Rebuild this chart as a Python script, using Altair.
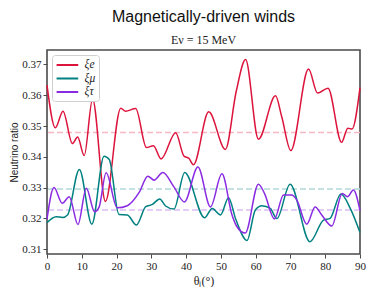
import altair as alt
import pandas as pd

# ---- data ----
series_names = ["ξe", "ξμ", "ξτ"]
series_colors = ["#dc143c", "#008080", "#8a2be2"]
mean_colors = ["#f5b9c5", "#b3d9d9", "#dcbff6"]

theta_e = [0, 2.4, 4.6, 7.3, 8.8, 10.7, 13.1, 16.8, 21.2, 22.6, 25.5, 28.6, 30.6,
           32.8, 37.0, 39.4, 40.8, 42.1, 46.5, 51.3, 54.4, 57.1, 60.8, 65.7, 67.5,
           70.1, 75.2, 77.8, 80.8, 84.7, 86.5, 87.7, 90]
xi_e = [0.3633, 0.3494, 0.3548, 0.3443, 0.3464, 0.3404, 0.3588, 0.3255, 0.3558,
        0.3548, 0.3557, 0.3430, 0.3436, 0.3393, 0.3478, 0.3402, 0.3395, 0.3374,
        0.3546, 0.3424, 0.3612, 0.3716, 0.3457, 0.3598, 0.3530, 0.3420, 0.3685,
        0.3607, 0.3623, 0.3447, 0.3493, 0.3490, 0.3625]

theta_mu = [0, 2.6, 4.5, 5.9, 9.3, 12.9, 16.4, 17.9, 20.7, 23.1, 25.7, 28.4, 30.3,
            32.4, 34.1, 36.5, 39.6, 45.3, 47.5, 49.9, 52.2, 54.3, 57.5, 59.9, 61.8,
            64.2, 66.1, 69.9, 75.6, 79.5, 81.4, 84.5, 87.3, 90]
xi_mu = [0.3186, 0.3205, 0.3203, 0.3211, 0.3359, 0.3181, 0.3402, 0.3391, 0.3212,
         0.3211, 0.3178, 0.3238, 0.3245, 0.3263, 0.3240, 0.3230, 0.3349, 0.3202,
         0.3232, 0.3211, 0.3267, 0.3196, 0.3128, 0.3227, 0.3241, 0.3232, 0.3199,
         0.3311, 0.3124, 0.3194, 0.3200, 0.3279, 0.3230, 0.3154]

theta_tau = [0, 2.0, 4.4, 6.4, 8.9, 11.3, 13.7, 15.0, 17.0, 20.2, 23.1, 26.5, 29.0,
             30.8, 33.3, 36.5, 39.5, 43.4, 47.0, 50.3, 53.2, 54.5, 57.0, 60.8, 62.5,
             65.4, 68.0, 70.4, 71.8, 74.7, 77.1, 79.0, 81.9, 84.9, 86.4, 88.1, 90]
xi_tau = [0.3197, 0.3300, 0.3249, 0.3270, 0.3180, 0.3298, 0.3221, 0.3237, 0.3348,
          0.3234, 0.3241, 0.3284, 0.3337, 0.3324, 0.3349, 0.3302, 0.3253, 0.3367,
          0.3237, 0.3345, 0.3211, 0.3175, 0.3152, 0.3311, 0.3282, 0.3198, 0.3276,
          0.3276, 0.3260, 0.3181, 0.3237, 0.3211, 0.3175, 0.3281, 0.3270, 0.3292,
          0.3225]

mean_values = [0.3479, 0.3295, 0.3227]

y_ticks = [0.31, 0.32, 0.33, 0.34, 0.35, 0.36, 0.37]
x_ticks = [0, 10, 20, 30, 40, 50, 60, 70, 80, 90]

# ---- build tables ----
rows = []
for name, th, vals in zip(series_names, [theta_e, theta_mu, theta_tau],
                          [xi_e, xi_mu, xi_tau]):
    for t, v in zip(th, vals):
        rows.append({"theta": t, "ratio": v, "series": name})
df = pd.DataFrame(rows)
means = pd.DataFrame({"mseries": series_names, "mean": mean_values})

serif = "Liberation Serif"
sans = "Liberation Sans, Arial, sans-serif"
frame = "#4a4a4a"

color_scale = alt.Scale(domain=series_names, range=series_colors)
mean_scale = alt.Scale(domain=series_names, range=mean_colors)
x_scale = alt.Scale(domain=[0, 90], nice=False)
y_scale = alt.Scale(domain=[0.3084, 0.3747], nice=False, zero=False)

y_axis = alt.Axis(values=y_ticks, format=".2f", title="Neutrino ratio",
                  titleFont=sans, titleFontSize=10, titleFontWeight="normal",
                  titlePadding=2, labelOverlap=False, labelBound=False)

legend = alt.Legend(title=None, orient="none", legendX=5, legendY=5,
                    symbolType="M-1,0L3,0", symbolStrokeWidth=2, symbolSize=117,
                    symbolFillColor="transparent",
                    labelFont=serif, labelFontSize=11.5, labelFontStyle="italic",
                    labelColor="#222222",
                    fillColor="white", strokeColor="#d0d0d0",
                    cornerRadius=3, padding=3.5, rowPadding=1.5, labelOffset=16)

lines = alt.Chart(df).mark_line(strokeWidth=1.5, interpolate="monotone").encode(
    x=alt.X("theta:Q", scale=x_scale,
            axis=alt.Axis(values=x_ticks, title="θⱼ(°)", titleFont=serif,
                          titleFontSize=12, titleFontWeight="normal",
                          titlePadding=4, labelFlush=False)),
    y=alt.Y("ratio:Q", scale=y_scale, axis=y_axis),
    color=alt.Color("series:N", scale=color_scale, legend=legend),
    detail="series:N",
)

mean_rules = alt.Chart(means).mark_rule(
    strokeDash=[6, 3], strokeWidth=1.5
).encode(
    y=alt.Y("mean:Q", scale=y_scale, axis=y_axis),
    color=alt.Color("mseries:N", scale=mean_scale, legend=None),
)

chart = alt.layer(mean_rules, lines).resolve_scale(
    color="independent"
).properties(
    width=313,
    height=204,
    padding={"left": 39, "top": 42, "right": 6, "bottom": 33},
    autosize=alt.AutoSizeParams(type="none"),
    title=alt.TitleParams(
        text="Magnetically-driven winds",
        subtitle="Eν = 15 MeV",
        font=sans, fontSize=16, fontWeight="normal", color="#111111",
        subtitleFont=serif, subtitleFontSize=12, subtitleColor="#222222",
        anchor="middle", offset=4, subtitlePadding=10,
    ),
).configure_view(
    stroke=frame, strokeWidth=1.6
).configure_axis(
    grid=False, domain=False, tickColor=frame, tickSize=4, tickWidth=1,
    labelFont=serif, labelFontSize=11, labelColor="#222222",
    titleColor="#222222", labelPadding=2,
)

chart.save("out.html", embed_options={"renderer": "svg", "actions": False})
